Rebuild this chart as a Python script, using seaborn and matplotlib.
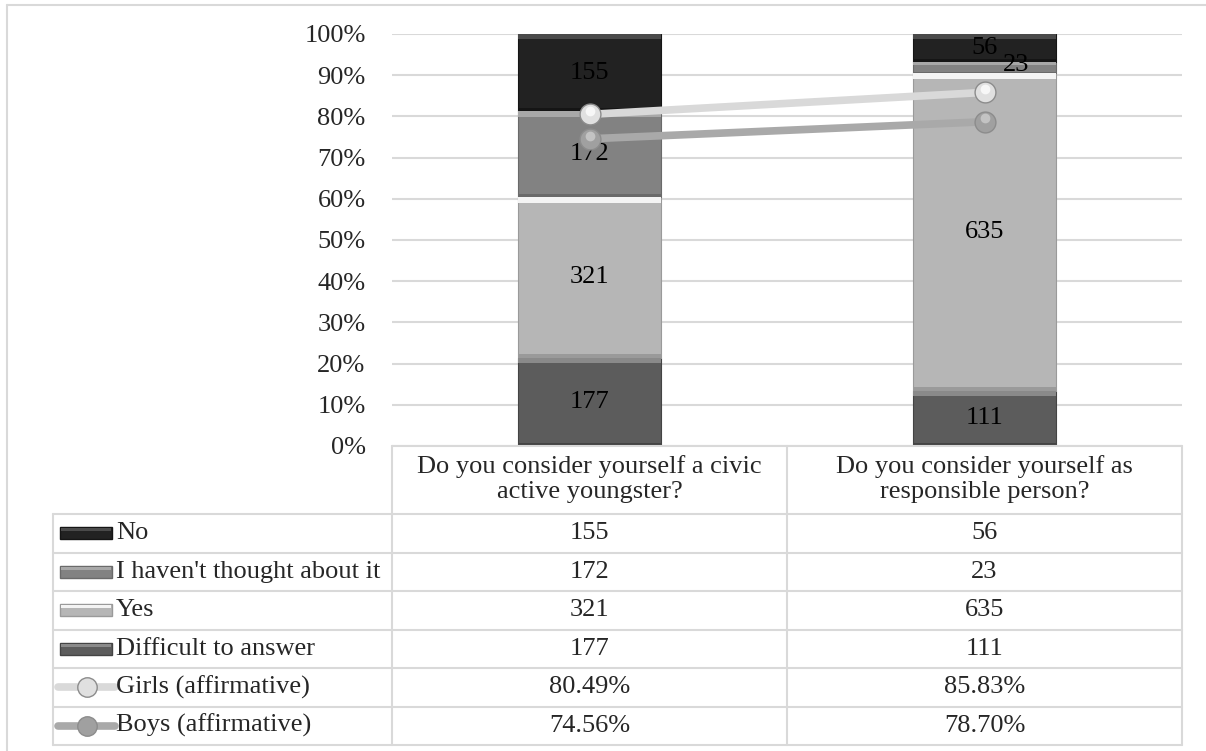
import numpy as np
import pandas as pd
import matplotlib
matplotlib.use("Agg")
import matplotlib.pyplot as plt
import seaborn as sns
from matplotlib.lines import Line2D
from matplotlib.patches import Rectangle

# ---------------- data ----------------
categories = ["Do you consider yourself a civic\nactive youngster?",
              "Do you consider yourself as\nresponsible person?"]
series_names = ["Difficult to answer", "Yes", "I haven't thought about it", "No"]  # bottom -> top
difficult = [177, 111]
yes = [321, 635]
not_thought = [172, 23]
no = [155, 56]
girls = [80.49, 85.83]
boys = [74.56, 78.70]
yticks = [0, 10, 20, 30, 40, 50, 60, 70, 80, 90, 100]

# ---------------- style ----------------
sns.set_theme(style="white")
plt.rcParams["font.family"] = ["Liberation Serif", "DejaVu Serif"]
FS = 19

W, H = 1206, 751
fig = plt.figure(figsize=(W / 100, H / 100), dpi=100)

def fx(px):
    return px / W

def fy(py):
    return 1 - py / H

ax_l, ax_r, ax_t, ax_b = 392, 1182, 34, 446
ax = fig.add_axes([fx(ax_l), fy(ax_b), fx(ax_r) - fx(ax_l), fy(ax_t) - fy(ax_b)])

colors = {"Difficult to answer": "#5c5c5c", "Yes": "#b6b6b6",
          "I haven't thought about it": "#828282", "No": "#222222"}
hi_colors = {"Difficult to answer": "#8a8a8a", "Yes": "#f4f4f4",
             "I haven't thought about it": "#a8a8a8", "No": "#4a4a4a"}
lo_colors = {"Difficult to answer": "#444444", "Yes": "#9a9a9a",
             "I haven't thought about it": "#6a6a6a", "No": "#151515"}

counts = {"Difficult to answer": np.array(difficult, float), "Yes": np.array(yes, float),
          "I haven't thought about it": np.array(not_thought, float), "No": np.array(no, float)}
total = sum(counts.values())
x = np.arange(len(categories))
bw = 0.363
bottom = np.zeros(len(categories))
for name in series_names:
    pct = counts[name] / total * 100
    ax.bar(x, pct, bottom=bottom, width=bw, color=colors[name], edgecolor=lo_colors[name],
           linewidth=0.8, zorder=2)
    # bevel: light top strip and dark bottom strip
    strip = np.minimum(pct * 0.25, 1.3)
    ax.bar(x, strip, bottom=bottom + pct - strip, width=bw, color=hi_colors[name],
           linewidth=0, zorder=2.1)
    ax.bar(x, strip * 0.6, bottom=bottom, width=bw, color=lo_colors[name],
           linewidth=0, zorder=2.1)
    for i in range(len(categories)):
        cx = x[i]
        cy = bottom[i] + pct[i] / 2
        if name == "I haven't thought about it" and i == 1:
            cx = x[i] + 0.08
            cy = bottom[i] + pct[i] / 2 + 0.6
        ax.text(cx, cy, f"{int(counts[name][i])}", ha="center", va="center",
                fontsize=FS, color="black", zorder=3)
    bottom = bottom + pct

line_df = pd.DataFrame({
    "x": np.concatenate([x, x]),
    "value": girls + boys,
    "series": ["Girls (affirmative)"] * 2 + ["Boys (affirmative)"] * 2,
})
line_colors = {"Girls (affirmative)": "#d9d9d9", "Boys (affirmative)": "#a9a9a9"}
marker_colors = {"Girls (affirmative)": "#e0e0e0", "Boys (affirmative)": "#a0a0a0"}
marker_hi = {"Girls (affirmative)": "#fafafa", "Boys (affirmative)": "#c8c8c8"}
for sname in ["Boys (affirmative)", "Girls (affirmative)"]:
    sub = line_df[line_df.series == sname]
    sns.lineplot(data=sub, x="x", y="value", ax=ax, color=line_colors[sname],
                 linewidth=5.5, marker="o", markersize=15,
                 markerfacecolor=marker_colors[sname], markeredgecolor="#8c8c8c",
                 markeredgewidth=1.0, zorder=4, legend=False)
    ax.plot(sub["x"], sub["value"] + 0.8, linestyle="none", marker="o", markersize=7,
            markerfacecolor=marker_hi[sname], markeredgewidth=0, zorder=4.5, alpha=0.9)

ax.set_xlim(-0.5, 1.5)
ax.set_ylim(0, 100)
ax.set_yticks(yticks)
ax.set_yticklabels([f"{t}%" for t in yticks], fontsize=FS)
ax.set_xticks([])
ax.set_xlabel("")
ax.set_ylabel("")
ax.tick_params(axis="y", length=0, pad=19)
ax.yaxis.grid(True, color="#d9d9d9", linewidth=1.5, zorder=0)
ax.set_axisbelow(True)
for s in ax.spines.values():
    s.set_visible(False)

# ---------------- data table ----------------
gc = "#d9d9d9"

def hline(y, x0, x1, lw=1.5, c=gc):
    fig.add_artist(Line2D([fx(x0), fx(x1)], [fy(y), fy(y)], color=c, lw=lw, zorder=1))

def vline(xp, y0, y1, lw=1.5, c=gc):
    fig.add_artist(Line2D([fx(xp), fx(xp)], [fy(y0), fy(y1)], color=c, lw=lw, zorder=1))

tab_left, col1, col2, tab_right = 53, 392, 787, 1182
header_top = 446
rows_y = [514, 552.5, 591, 629.5, 668, 706.5, 745]

hline(header_top, col1, tab_right)
for y in rows_y:
    hline(y, tab_left, tab_right)
vline(tab_left, rows_y[0], rows_y[-1])
for xp in [col1, col2, tab_right]:
    vline(xp, header_top, rows_y[-1])

col_centers = [(col1 + col2) / 2, (col2 + tab_right) / 2]
for i, cat in enumerate(categories):
    fig.text(fx(col_centers[i]), fy((header_top + rows_y[0]) / 2 - 1), cat,
             ha="center", va="center", fontsize=FS, linespacing=1.12)

row_names = ["No", "I haven't thought about it", "Yes", "Difficult to answer",
             "Girls (affirmative)", "Boys (affirmative)"]
row_vals = [[str(v) for v in no], [str(v) for v in not_thought], [str(v) for v in yes],
            [str(v) for v in difficult], [f"{v:.2f}%" for v in girls],
            [f"{v:.2f}%" for v in boys]]

for r, name in enumerate(row_names):
    yc = (rows_y[r] + rows_y[r + 1]) / 2
    fig.text(fx(116), fy(yc), name, ha="left", va="center", fontsize=FS)
    for c in range(2):
        fig.text(fx(col_centers[c]), fy(yc), row_vals[r][c], ha="center", va="center", fontsize=FS)
    if name in colors:
        fig.add_artist(Rectangle((fx(60), fy(yc + 6)), fx(112) - fx(60), fy(yc - 6) - fy(yc + 6),
                                 transform=fig.transFigure, facecolor=colors[name],
                                 edgecolor=lo_colors[name], lw=1.0))
        fig.add_artist(Rectangle((fx(61), fy(yc - 2)), fx(111) - fx(61), fy(yc - 5) - fy(yc - 2),
                                 transform=fig.transFigure, facecolor=hi_colors[name], lw=0))
    else:
        fig.add_artist(Line2D([fx(58), fx(87), fx(115)], [fy(yc), fy(yc), fy(yc)],
                              color=line_colors[name], lw=5.5,
                              marker="o", markevery=[1], markersize=14,
                              markerfacecolor=marker_colors[name], markeredgecolor="#8c8c8c"))

# outer frame
hline(5, 7, 1206, lw=1.5)
vline(7, 5, 751, lw=1.5)

fig.savefig("out.png", dpi=100)
